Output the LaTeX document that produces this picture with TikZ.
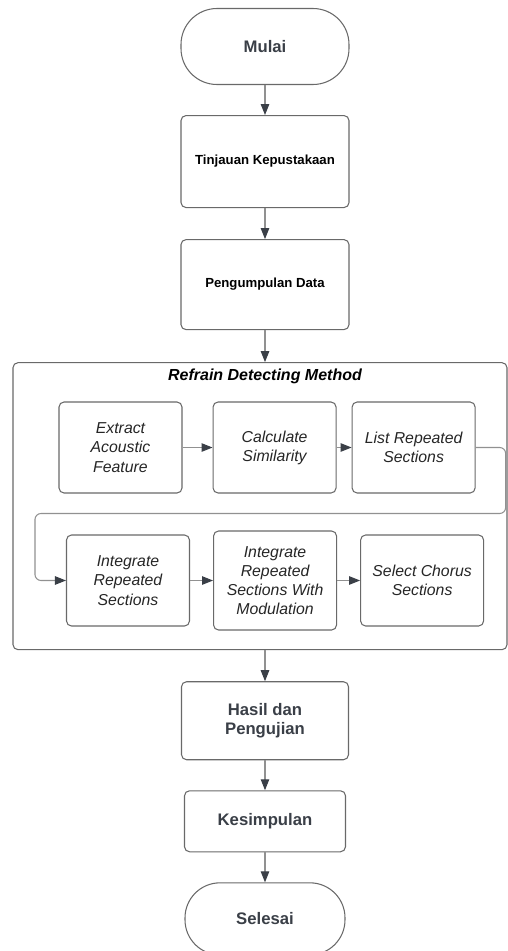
\documentclass[tikz,border=0pt]{standalone}
\usepackage{fontspec}
\setmainfont{Liberation Sans}
\usepackage{xcolor}
\usepackage{tikz}
\usetikzlibrary{arrows.meta, positioning, calc}
\definecolor{inkgray}{RGB}{58,63,71}
\definecolor{linegray}{RGB}{145,145,145}
\definecolor{boxgray}{RGB}{105,105,105}
\newcommand{\mainfont}{\fontsize{9.5}{11.3}\selectfont\bfseries}
\newcommand{\subfont}{\fontsize{9}{10.9}\selectfont\itshape}

\begin{document}
\begin{tikzpicture}[
    terminal/.style={rectangle, rounded corners=0.72cm, draw=boxgray, fill=white, line width=0.6pt,
                     minimum width=3.36cm, minimum height=1.52cm, align=center, font=\mainfont, text=inkgray},
    stage/.style={rectangle, rounded corners=0.1cm, draw=boxgray, fill=white, line width=0.6pt,
                  minimum width=3.36cm, align=center, font=\mainfont, text=inkgray},
    substage/.style={rectangle, rounded corners=0.1cm, draw=boxgray, fill=white, line width=0.6pt,
                     minimum width=2.46cm, minimum height=1.82cm, inner sep=2pt, align=center,
                     font=\subfont, text=black!85},
    arr/.style={-{Triangle[length=2.2mm, width=1.7mm, color=inkgray]}, draw=linegray, line width=0.6pt}
]
\useasboundingbox (0,0) rectangle (10.16,-19.02);

% main flow
\node[terminal] (mulai) at (5.3,-0.93) {Mulai};
\node[stage, below=0.6cm of mulai, minimum height=1.84cm, font=\fontsize{7.5}{9}\selectfont\bfseries, text=black] (tinjauan) {Tinjauan Kepustakaan};
\node[stage, below=0.62cm of tinjauan, minimum height=1.8cm, font=\fontsize{7.5}{9}\selectfont\bfseries, text=black] (data) {Pengumpulan Data};
\node[rectangle, rounded corners=0.1cm, draw=boxgray, line width=0.6pt, minimum width=9.88cm, minimum height=5.74cm,
      below=0.64cm of data, xshift=-0.1cm] (method) {};
\node[font=\fontsize{9.1}{11}\selectfont\bfseries\itshape, text=black] (title) at ($(method.north -| data)+(0,-0.29)$) {Refrain Detecting Method};

% refrain detecting steps
\node[substage] (extract) at (2.41,-8.95) {Extract\\Acoustic\\Feature};
\node[substage, right=0.6cm of extract] (similar) {Calculate\\Similarity};
\node[substage, right=0.3cm of similar] (listrep) {List Repeated\\Sections};
\node[substage] (integ) at (2.56,-11.61) {Integrate\\Repeated\\Sections};
\node[substage, right=0.46cm of integ, minimum height=1.98cm] (modul) {Integrate\\Repeated\\Sections With\\Modulation};
\node[substage, right=0.46cm of modul] (chorus) {Select Chorus\\Sections};

\node[stage, below=0.62cm of method, xshift=0.1cm, minimum width=3.34cm, minimum height=1.56cm] (hasil) {Hasil dan\\Pengujian};
\node[stage, below=0.6cm of hasil, minimum width=3.22cm, minimum height=1.22cm] (simpul) {Kesimpulan};
\node[terminal, below=0.6cm of simpul, minimum width=3.2cm, minimum height=1.44cm, rounded corners=0.7cm] (selesai) {Selesai};

\draw[arr] (mulai) -- (tinjauan);
\draw[arr] (tinjauan) -- (data);
\draw[arr] (data) -- (data |- method.north);
\draw[arr] (extract) -- (similar);
\draw[arr] (similar) -- (listrep);
\draw[arr, rounded corners=0.12cm] (listrep.east) -- ++(0.6,0) -- ++(0,-1.32) -| ([xshift=-0.62cm]integ.west) -- (integ.west);
\draw[arr] (integ) -- (modul);
\draw[arr] (modul) -- (chorus);
\draw[arr] (hasil |- method.south) -- (hasil);
\draw[arr] (hasil) -- (simpul);
\draw[arr] (simpul) -- (selesai);
\end{tikzpicture}
\end{document}
